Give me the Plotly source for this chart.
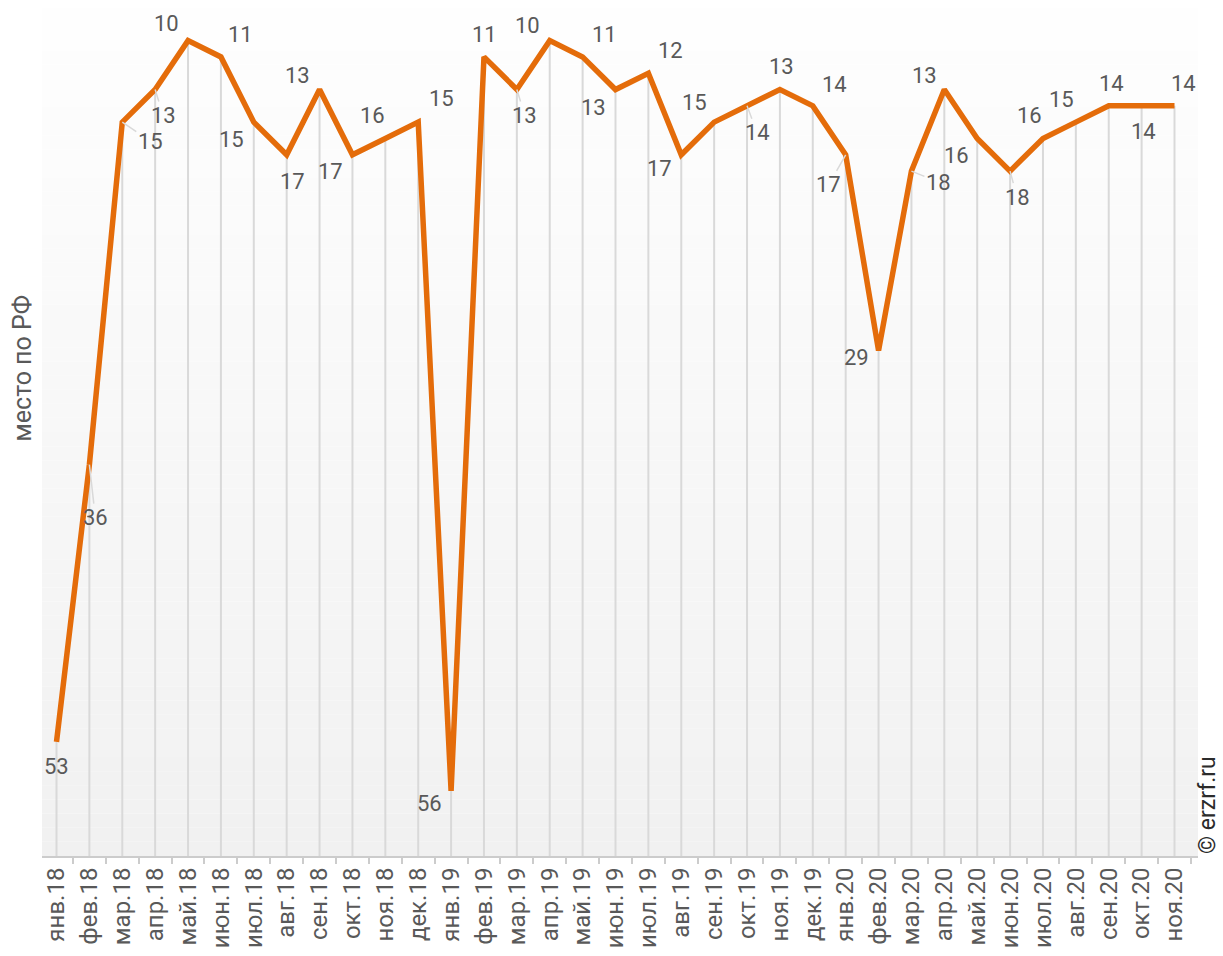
import plotly.graph_objects as go

# Monthly rank of the region (lower number = better place)
months = [
    "янв.18", "фев.18", "мар.18", "апр.18", "май.18", "июн.18", "июл.18", "авг.18",
    "сен.18", "окт.18", "ноя.18", "дек.18",
    "янв.19", "фев.19", "мар.19", "апр.19", "май.19", "июн.19", "июл.19", "авг.19",
    "сен.19", "окт.19", "ноя.19", "дек.19",
    "янв.20", "фев.20", "мар.20", "апр.20", "май.20", "июн.20", "июл.20", "авг.20",
    "сен.20", "окт.20", "ноя.20",
]
rank = [
    53, 36, 15, 13, 10, 11, 15, 17, 13, 17, 16, 15,
    56, 11, 13, 10, 11, 13, 12, 17, 15, 14, 13, 14,
    17, 29, 18, 13, 16, 18, 16, 15, 14, 14, 14,
]

# label placement relative to the point (pixels right, pixels down) and leader flag
label_offsets = [
    (0, 25, False), (6, 53, True), (28, 19, True), (8, 26, True), (-22, -17, False),
    (20, -22, False), (-22, 17, False), (6, 27, False), (-22, -14, False), (-22, 17, False),
    (-13, -23, False), (23, -24, False),
    (-22, 13, False), (1, -22, False), (8, 26, True), (-22, -15, False), (22, -22, False),
    (-22, 18, False), (22, -23, False), (-22, 14, False), (-20, -20, False), (10, 27, True),
    (2, -23, False), (22, -21, False),
    (-17, 30, True), (-22, 7, False), (27, 11, True), (-20, -14, False), (-21, 17, False),
    (7, 26, True), (-13, -23, False), (-14, -23, False), (3, -22, False), (2, 26, False),
    (9, -22, False),
]

Y_BOTTOM, Y_TOP = 60, 8
LINE_COLOR = "#E46C0A"
TEXT_COLOR = "#595959"
FONT = "Roboto"

fig = go.Figure()

# drop lines from every point down to the axis
drop_x, drop_y = [], []
for m, v in zip(months, rank):
    drop_x += [m, m, None]
    drop_y += [v, Y_BOTTOM, None]
fig.add_trace(go.Scatter(
    x=drop_x, y=drop_y, mode="lines",
    line=dict(color="#d9d9d9", width=2),
    hoverinfo="skip", showlegend=False,
))

fig.add_trace(go.Scatter(
    x=months, y=rank, mode="lines",
    line=dict(color=LINE_COLOR, width=5.5),
    showlegend=False,
))

# vertical gradient behind the plot area
shapes = []
n_bands = 60
top_c, bot_c = 254, 241
for i in range(n_bands):
    t = i / (n_bands - 1)
    c = round(top_c + (bot_c - top_c) * t)
    shapes.append(dict(
        type="rect", xref="x domain", yref="y domain",
        x0=0, x1=1, y0=1 - (i + 1) / n_bands, y1=1 - i / n_bands,
        fillcolor=f"rgb({c},{c},{c})", line=dict(width=0), layer="below",
    ))

annotations = []
for m, v, (dx, dy, leader) in zip(months, rank, label_offsets):
    if leader:
        annotations.append(dict(
            x=m, y=v, text=str(v), showarrow=True, arrowhead=0,
            arrowwidth=1.5, arrowcolor="#d9d9d9", ax=dx, ay=dy, standoff=0,
            font=dict(family=FONT, size=22, color=TEXT_COLOR),
        ))
    else:
        annotations.append(dict(
            x=m, y=v, text=str(v), showarrow=False,
            xshift=dx, yshift=-dy,
            font=dict(family=FONT, size=22, color=TEXT_COLOR),
        ))

annotations.append(dict(
    text="место по РФ", xref="paper", yref="paper", x=0, y=0.5746,
    xshift=-19, xanchor="center", yanchor="middle", textangle=-90, showarrow=False,
    font=dict(family=FONT, size=25, color=TEXT_COLOR),
))
annotations.append(dict(
    text="© erzrf.ru", xref="paper", yref="paper", x=1, y=0,
    xshift=9, xanchor="center", yanchor="bottom", textangle=-90, showarrow=False,
    font=dict(family=FONT, size=23, color="#2b2b2b"),
))

fig.update_layout(
    width=1223, height=956,
    margin=dict(l=41.5, r=24.5, t=8, b=97),
    paper_bgcolor="white", plot_bgcolor="rgba(0,0,0,0)",
    shapes=shapes, annotations=annotations,
    font=dict(family=FONT, color=TEXT_COLOR),
    xaxis=dict(
        type="category", showgrid=False, zeroline=False,
        showline=True, linecolor="#cccccc", linewidth=2,
        ticks="outside", tickson="boundaries", ticklen=6, tickwidth=2, tickcolor="#cccccc",
        tickangle=-90, tickfont=dict(family=FONT, size=24, color=TEXT_COLOR),
    ),
    yaxis=dict(
        range=[Y_BOTTOM, Y_TOP], showgrid=False, zeroline=False,
        showticklabels=False, showline=False, ticks="",
    ),
)

fig.write_html("out.html")
